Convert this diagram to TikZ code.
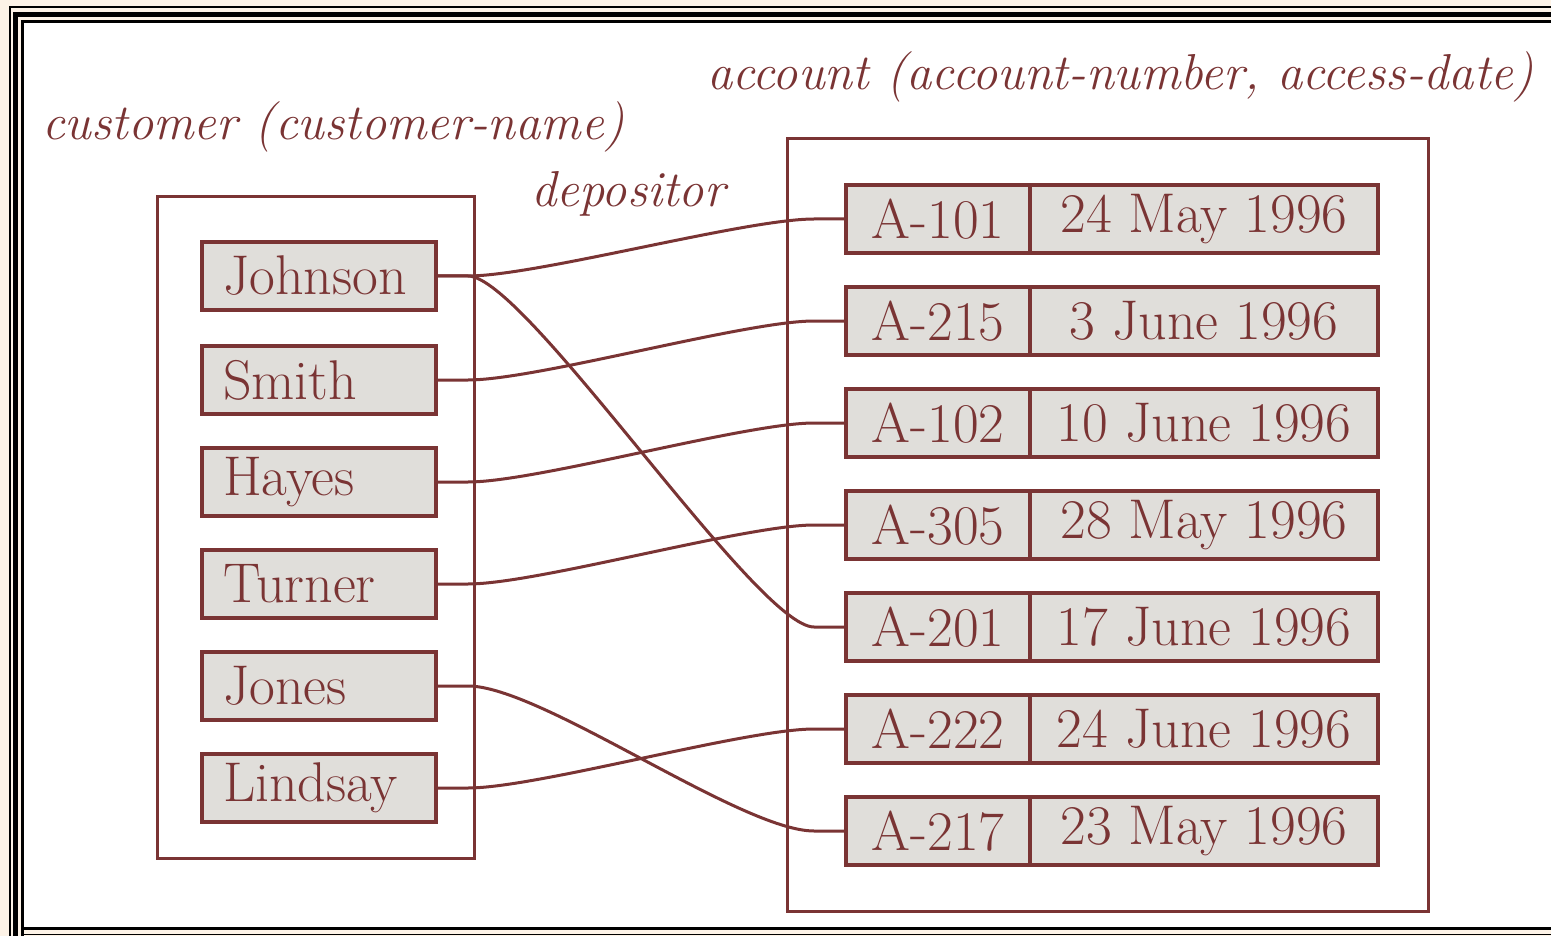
\documentclass[tikz,border=0pt]{standalone}
\usepackage{fontspec}
\usetikzlibrary{positioning}
\definecolor{maroon}{HTML}{7A3434}
\definecolor{cellgray}{HTML}{E0DEDA}
\definecolor{pagebg}{HTML}{FDF3E7}
\begin{document}
\begin{tikzpicture}[x=1pt,y=-1pt,
  cell/.style={draw=maroon,fill=cellgray,line width=4pt,text=maroon,
    minimum height=68pt,inner sep=0pt,outer sep=0pt,
    font=\fontsize{56}{64}\selectfont},
  namecell/.style={cell,text width=192pt,inner xsep=21pt,align=left},
  numcell/.style={cell,minimum width=184pt},
  datecell/.style={cell,minimum width=348pt},
  relbox/.style={draw=maroon,line width=3pt},
  link/.style={draw=maroon,line width=3pt},
  title/.style={text=maroon,inner sep=0pt,font=\fontsize{50.5}{58}\selectfont\itshape}]
  \useasboundingbox (0,0) rectangle (1551,936);
  \fill[pagebg] (0,0) rectangle (1551,936);
  \fill[white] (23,22) rectangle (1551,927);
  \draw[line width=2pt] (10,936) -- (10,7.5) -- (1551,7.5);
  \draw[line width=5pt] (15,936) -- (15,14.5) -- (1551,14.5);
  \draw[line width=3pt] (22,936) -- (22,21.5) -- (1551,21.5);
  \draw[line width=3pt] (22,928.5) -- (1551,928.5);
  \draw[line width=1.5pt] (22,934.5) -- (1551,934.5);

  \node[title,anchor=base west] (custlabel) at (42,140) {customer (customer-name)};
  \node[title,anchor=base west] (acctlabel) at (707,90) {account (account-number, access-date)};
  \node[title,anchor=base west] (deplabel) at (531,207) {depositor};

  \draw[relbox] (157,197) rectangle (474,858);
  \draw[relbox] (787,139) rectangle (1428,911);

  \foreach \n/\y in {Johnson/276,Smith/380,Hayes/482,Turner/584,Jones/686,Lindsay/788}
    \node[namecell] (\n) at (319,\y) {\n};

  \foreach \id/\num/\date/\y in {a101/A-101/24 May 1996/219,a215/A-215/3 June 1996/321,
      a102/A-102/10 June 1996/423,a305/A-305/28 May 1996/525,a201/A-201/17 June 1996/627,
      a222/A-222/24 June 1996/729,a217/A-217/23 May 1996/831}{
    \node[numcell] (\id) at (938,\y) {\num};
    \node[datecell,right=0pt of \id] (\id d) {\date};
  }

  \foreach \c/\a/\l in {Johnson/a101/0.5,Smith/a215/0.5,Hayes/a102/0.5,Turner/a305/0.5,
      Jones/a217/0.5,Lindsay/a222/0.5,Johnson/a201/0.3}
    \draw[link] (\c.east) -- +(32,0) to[out=0,in=180,looseness=\l] ([xshift=-32pt]\a.west) -- (\a.west);
\end{tikzpicture}
\end{document}
